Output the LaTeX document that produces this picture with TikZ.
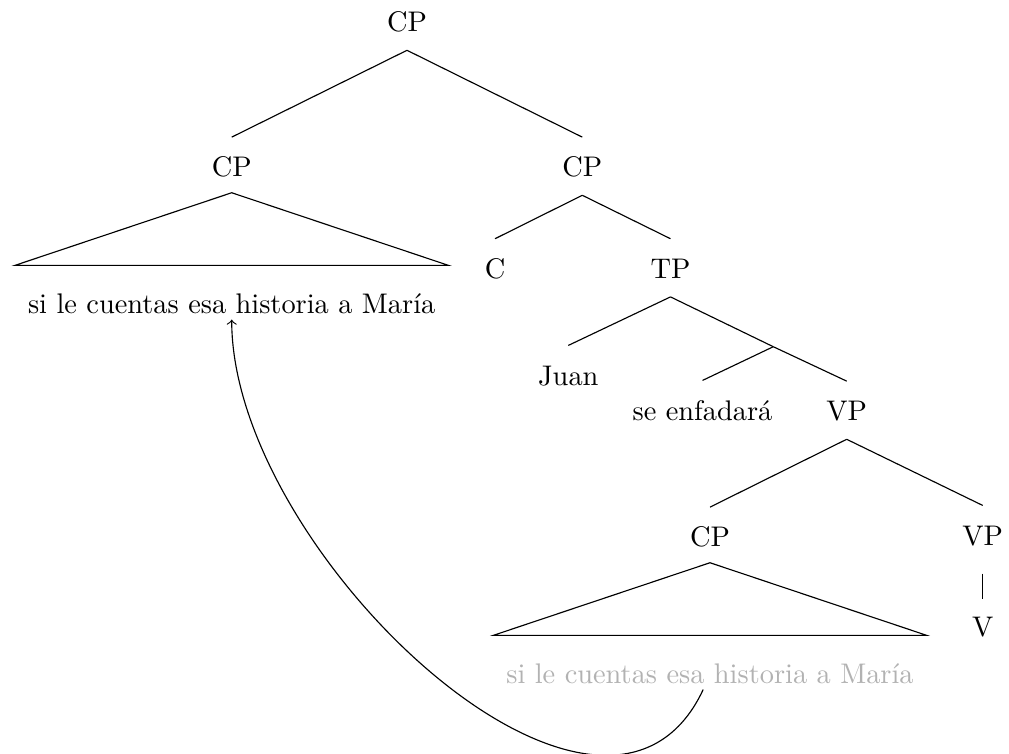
\documentclass[tikz,border=0pt]{standalone}
\usetikzlibrary{calc}

\tikzset{
    cat/.style={anchor=base, inner sep=0pt, text height=13.75pt, text depth=6.35pt},
    roof/.style={anchor=base, inner xsep=4.4pt, inner ysep=0pt, text height=16.7pt, text depth=2pt},
    moved/.style={text=black!30}
}

\begin{document}
\begin{tikzpicture}[x=0.3525pt, y=-0.3525pt]
    \useasboundingbox (0,0) rectangle (1009,753);

    % Draw labels
    \node [cat] (cp0) at (407,31.7) {CP};
    \node [cat] (cp1) at (231.7,176.7) {CP};
    \node [cat] (cp2) at (582.3,176.7) {CP};
    \node [cat] (c) at (495,278.3) {C};
    \node [cat] (tp) at (670.5,278.3) {TP};
    \node [cat] (juan) at (568.3,385) {Juan};
    \coordinate (tbar) at (773.3,346.7);
    \node [cat] (sef) at (702.5,420) {se enfadará};
    \node [cat] (vp1) at (846.7,420.7) {VP};
    \node [cat] (cp3) at (710,546.7) {CP};
    \node [cat] (vp2) at (982.7,545) {VP};
    \node [cat] (v) at (982.7,636.7) {V};

    % Draw clauses under roofs
    \node [roof] (ltxt) at (231.7,313.3) {si le cuentas esa historia a María};
    \node [roof, moved] (gtxt) at (710,683.3) {si le cuentas esa historia a María};

    % Draw branches
    \draw (cp0.south) -- (cp1.north);
    \draw (cp0.south) -- (cp2.north);
    \draw (cp2.south) -- (c.north);
    \draw (cp2.south) -- (tp.north);
    \draw (tp.south) -- (juan.north);
    \draw (tp.south) -- (tbar);
    \draw (tbar) -- (sef.north);
    \draw (tbar) -- (vp1.north);
    \draw (vp1.south) -- (cp3.north);
    \draw (vp1.south) -- (vp2.north);
    \draw [shorten <=3.5pt, shorten >=-0.5pt] (vp2.south) -- (v.north);

    % Draw roofs
    \draw ([yshift=0.9pt]cp1.south) -- (ltxt.north west) -- (ltxt.north east) -- cycle;
    \draw ([yshift=0.9pt]cp3.south) -- (gtxt.north west) -- (gtxt.north east) -- cycle;

    % Draw movement arrow
    \draw [->] ([xshift=-2.4pt]gtxt.south) to [out=-115, in=-90] (ltxt.south);

\end{tikzpicture}
\end{document}
